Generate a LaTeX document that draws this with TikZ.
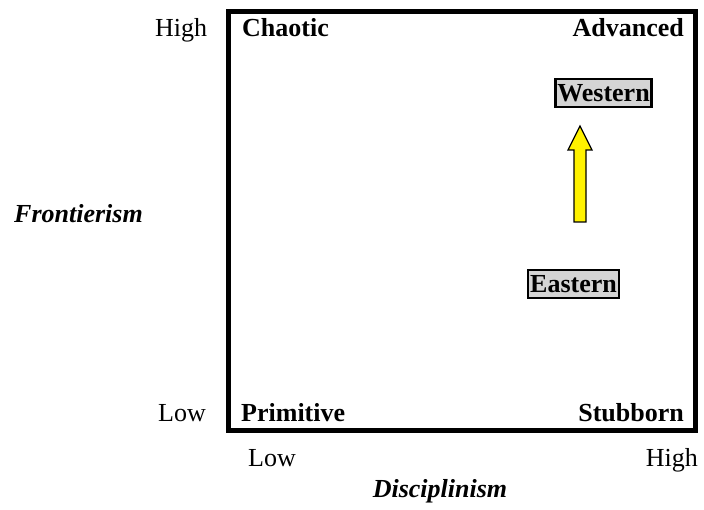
\documentclass[tikz,border=0pt]{standalone}
\usepackage{fontspec}
\setmainfont{Liberation Serif}
\begin{document}
\begin{tikzpicture}[x=1pt,y=-1pt,
  lbl/.style={inner sep=0pt,font=\fontsize{26}{30}\selectfont},
  blbl/.style={lbl,font=\fontsize{26}{30}\selectfont\bfseries},
  axis/.style={inner sep=0pt,font=\fontsize{26}{30}\selectfont\bfseries\itshape},
  tag/.style={draw=black,line width=2.5pt,fill=black!17,inner xsep=2pt,inner ysep=0pt,
    text height=23pt,text depth=5pt,font=\fontsize{26}{30}\selectfont\bfseries},
  frame/.style={draw=black,line width=4.8pt},
  uparrow/.style={draw=black,line width=1.3pt,fill=yellow,line join=miter}]
\useasboundingbox (0,0) rectangle (704,510);
\path[frame] (228.5,11.5) rectangle (695.5,430.5);
\node[lbl,anchor=base west] (yhigh) at (155,37) {High};
\node[lbl,anchor=base west] (ylow) at (158,421) {Low};
\node[blbl,anchor=base west] (chaotic) at (242,37) {Chaotic};
\node[blbl,anchor=base east] (advanced) at (684,37) {Advanced};
\node[blbl,anchor=base west] (primitive) at (241,421) {Primitive};
\node[blbl,anchor=base east] (stubborn) at (684,421) {Stubborn};
\node[axis,anchor=base west] (front) at (14,223) {Frontierism};
\node[lbl,anchor=base west] (xlow) at (248,466) {Low};
\node[lbl,anchor=base east] (xhigh) at (698,466) {High};
\node[axis,anchor=base] (disc) at (440,497) {Disciplinism};
\node[tag,anchor=base] (western) at (603.5,102) {Western};
\node[tag,anchor=base] (eastern) at (573.5,293) {Eastern};
\coordinate (tip) at (580,126);
\path[uparrow] (574,222) -- (574,150) -- (568,150) -- (tip) -- (592,150) -- (586,150) -- (586,222) -- cycle;
\end{tikzpicture}
\end{document}
